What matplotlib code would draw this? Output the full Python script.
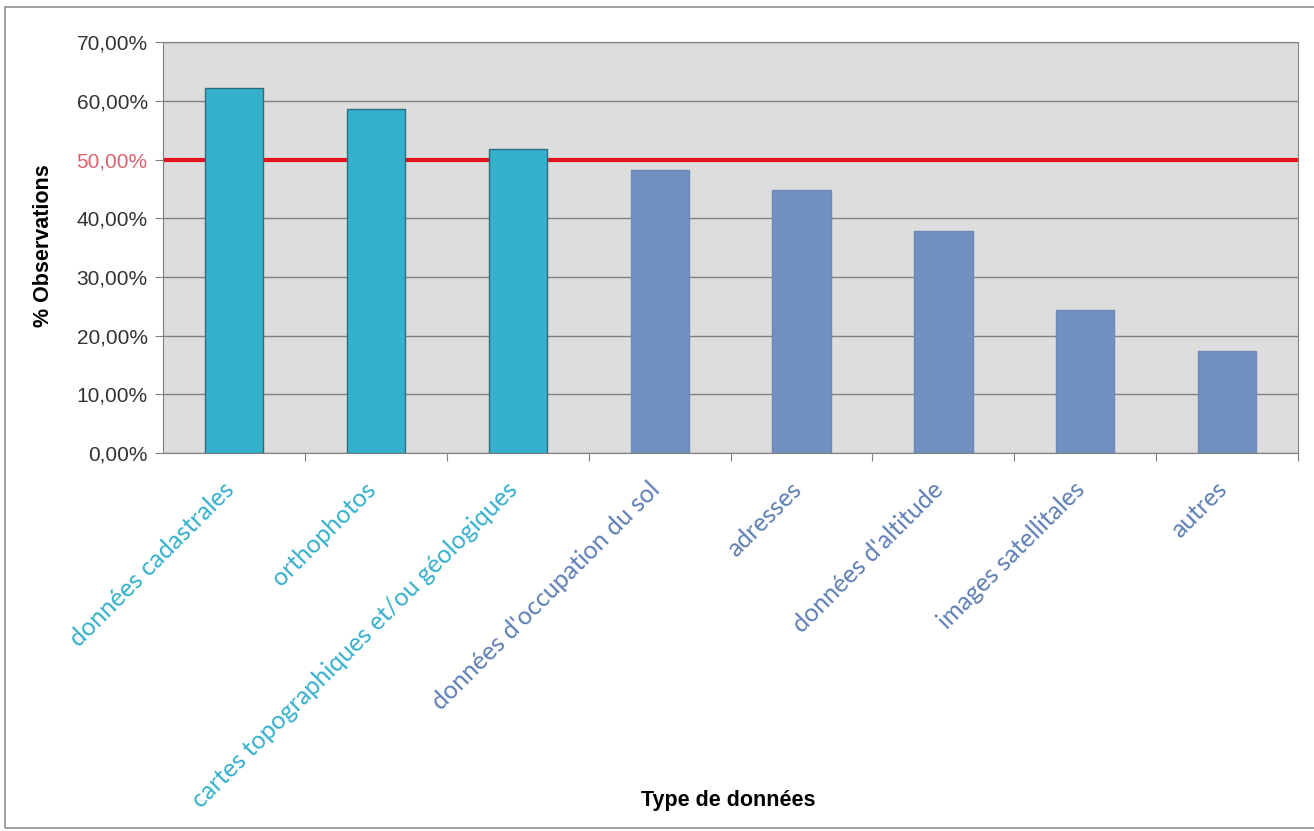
import matplotlib
matplotlib.use('Agg')
import matplotlib.pyplot as plt
from matplotlib.patches import Rectangle
from matplotlib.ticker import FuncFormatter, MultipleLocator
from matplotlib.transforms import ScaledTranslation

categories = ['données cadastrales', 'orthophotos', 'cartes topographiques et/ou géologiques',
              "données d'occupation du sol", 'adresses', "données d'altitude",
              'images satellitales', 'autres']
values = [62.3, 58.7, 51.8, 48.3, 44.9, 37.9, 24.4, 17.4]
threshold = 50.0

cyan = '#35B0CD'
blue = '#7291C1'

fig = plt.figure(figsize=(13.14, 8.31), dpi=100)
ax = fig.add_axes([0.124, 0.455, 0.864, 0.494])

ax.set_facecolor('#DDDDDD')
x = range(len(categories))
colors = [cyan if v > threshold else blue for v in values]
edges = ['#2B6E80' if v > threshold else '#6C89B8' for v in values]
ax.bar(x, values, width=0.41, color=colors, edgecolor=edges, linewidth=1.0, zorder=3)
ax.axhline(threshold, color='#E2111C', linewidth=3, zorder=2)

ax.set_xlim(-0.5, len(categories) - 0.5)
ax.set_ylim(0, 70)
ax.yaxis.set_major_locator(MultipleLocator(10))
ax.yaxis.set_major_formatter(FuncFormatter(lambda v, p: f'{v:.2f}%'.replace('.', ',')))
ax.grid(axis='y', color='#808080', linewidth=1.0, zorder=1)
ax.set_axisbelow(True)

for s in ax.spines.values():
    s.set_color('#808080')

ax.tick_params(axis='y', length=6, color='#808080', labelsize=15, pad=5)
fig.canvas.draw()
for tick in ax.yaxis.get_major_ticks():
    tick.label1.set_family('Liberation Sans')
    tick.label1.set_color('#333333')
    if abs(tick.get_loc() - threshold) < 1e-6:
        tick.label1.set_color('#E06070')

ax.set_xticks([i + 0.5 for i in range(len(categories))], minor=False)
ax.set_xticklabels([])
ax.tick_params(axis='x', length=6, color='#808080')
ax.set_xticks(list(x), minor=True)
ax.set_xticklabels(categories, minor=True, rotation=45, ha='right', va='top',
                   rotation_mode='anchor', fontsize=18, family='Lato')
ax.tick_params(axis='x', which='minor', length=0, pad=12)
shift = ScaledTranslation(-12 / 100, -8 / 100, fig.dpi_scale_trans)
for lab, c in zip(ax.get_xticklabels(minor=True), colors):
    lab.set_color(c if c == cyan else '#5F7FB5')
    lab.set_transform(lab.get_transform() + shift)

ax.set_ylabel('% Observations', fontsize=15.5, fontweight='bold', family='Liberation Sans')
ax.yaxis.set_label_coords(-0.096, 0.506)
fig.text(0.554, 0.037, 'Type de données', fontsize=15.5, fontweight='bold',
         family='Liberation Sans', ha='center', va='center')

fig.patches.append(Rectangle((0.004, 0.004), 1.2, 0.988, transform=fig.transFigure,
                             fill=False, edgecolor='#909090', linewidth=1.2))

fig.savefig('out.png', dpi=100)
